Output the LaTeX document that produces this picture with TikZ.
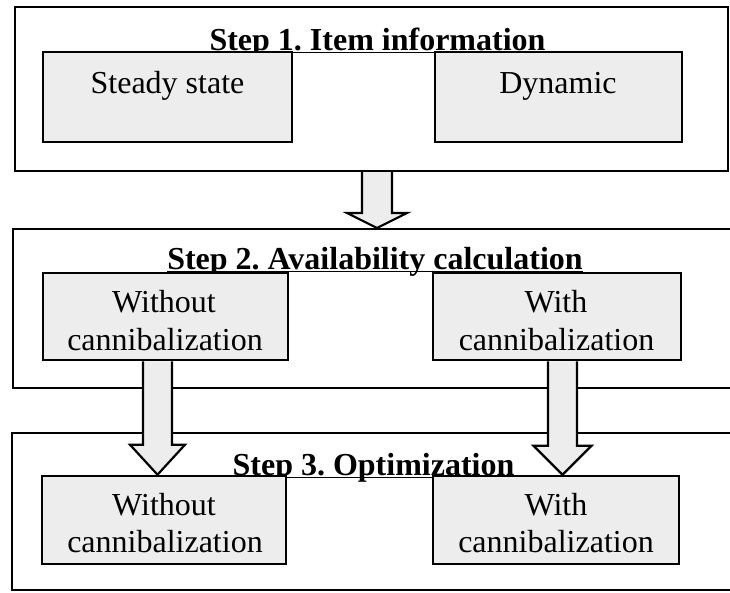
\documentclass[tikz,border=0pt]{standalone}
\usepackage{fontspec}
\setmainfont{Liberation Serif}
\usetikzlibrary{calc}
\frenchspacing
\tikzset{
  outerbox/.style={draw, line width=2pt, inner sep=0pt, rectangle},
  innerbox/.style={draw, line width=2.6pt, fill=black!7, inner sep=0pt, rectangle},
  ttl/.style={font=\fontsize{32}{38}\selectfont\bfseries, inner sep=0pt, anchor=base},
  lbl/.style={font=\fontsize{32}{38}\selectfont, inner sep=0pt, anchor=base},
  ul/.style={line width=1.6pt},
  fat/.style={draw, line width=2.2pt, fill=black!7, line join=miter},
}
% #1 x centre (pt), #2 start anchor, #3 end anchor, #4 stem half width, #5 head half width, #6 head length
\newcommand\fatarr[6]{%
  \path[fat] let \p1=#2, \p2=#3 in
    (#1pt-#4pt,\y1) -- (#1pt-#4pt,\y2+#6pt) -- (#1pt-#5pt,\y2+#6pt) -- (#1pt,\y2)
    -- (#1pt+#5pt,\y2+#6pt) -- (#1pt+#4pt,\y2+#6pt) -- (#1pt+#4pt,\y1);}
\begin{document}
\begin{tikzpicture}[x=1pt,y=-1pt]
\useasboundingbox (0,0) rectangle (730,592);
\clip (0,0) rectangle (730,592);
\fill[white] (0,0) rectangle (730,592);

% outer step boxes
\node[outerbox, minimum width=713, minimum height=164] (box1) at (371.5,89) {};
\node[outerbox, minimum width=723, minimum height=159] (box2) at (374.5,308.5) {};
\node[outerbox, minimum width=724, minimum height=157] (box3) at (374,511.5) {};

% titles
\node[ttl] (t1) at (377.5,50) {Step 1. Item information};
\node[ttl] (t2) at (375,269) {Step 2. Availability calculation};
\node[ttl] (t3) at (373.5,475) {Step 3. Optimization};
\draw[ul] ($(t1.base west)+(0,2.5)$) -- ($(t1.base east)+(0,2.5)$);
\draw[ul] ($(t2.base west)+(0,2.5)$) -- ($(t2.base east)+(0,2.5)$);
\draw[ul] ($(t3.base west)+(0,2.5)$) -- ($(t3.base east)+(0,2.5)$);

% inner boxes
\node[innerbox, minimum width=249, minimum height=90] (ss) at (167.5,97) {};
\node[innerbox, minimum width=247, minimum height=90] (dyn) at (558.5,97) {};
\node[innerbox, minimum width=245, minimum height=87] (wo2) at (165.5,316.5) {};
\node[innerbox, minimum width=248, minimum height=87] (wi2) at (557,316.5) {};
\node[innerbox, minimum width=244, minimum height=88] (wo3) at (164,520) {};
\node[innerbox, minimum width=246, minimum height=88] (wi3) at (556,520) {};

% labels
\node[lbl] (ssT) at (167.5,93) {Steady state};
\node[lbl] (dynT) at (558,93) {Dynamic};
\node[lbl] (wo2a) at (164,312) {Without};
\node[lbl] (wo2b) at (165,350) {cannibalization};
\node[lbl] (wi2a) at (556,312) {With};
\node[lbl] (wi2b) at (556.5,350) {cannibalization};
\node[lbl] (wo3a) at (164,515) {Without};
\node[lbl] (wo3b) at (165,552) {cannibalization};
\node[lbl] (wi3a) at (556,515) {With};
\node[lbl] (wi3b) at (556,552) {cannibalization};

% block arrows
\fatarr{377}{(box1.south)}{(box2.north)}{15}{30}{15}
\fatarr{157.5}{(wo2.south)}{(wo3.north)}{14.5}{27.5}{30}
\fatarr{562.5}{(wi2.south)}{(wi3.north)}{14.5}{29}{29}
\end{tikzpicture}
\end{document}
